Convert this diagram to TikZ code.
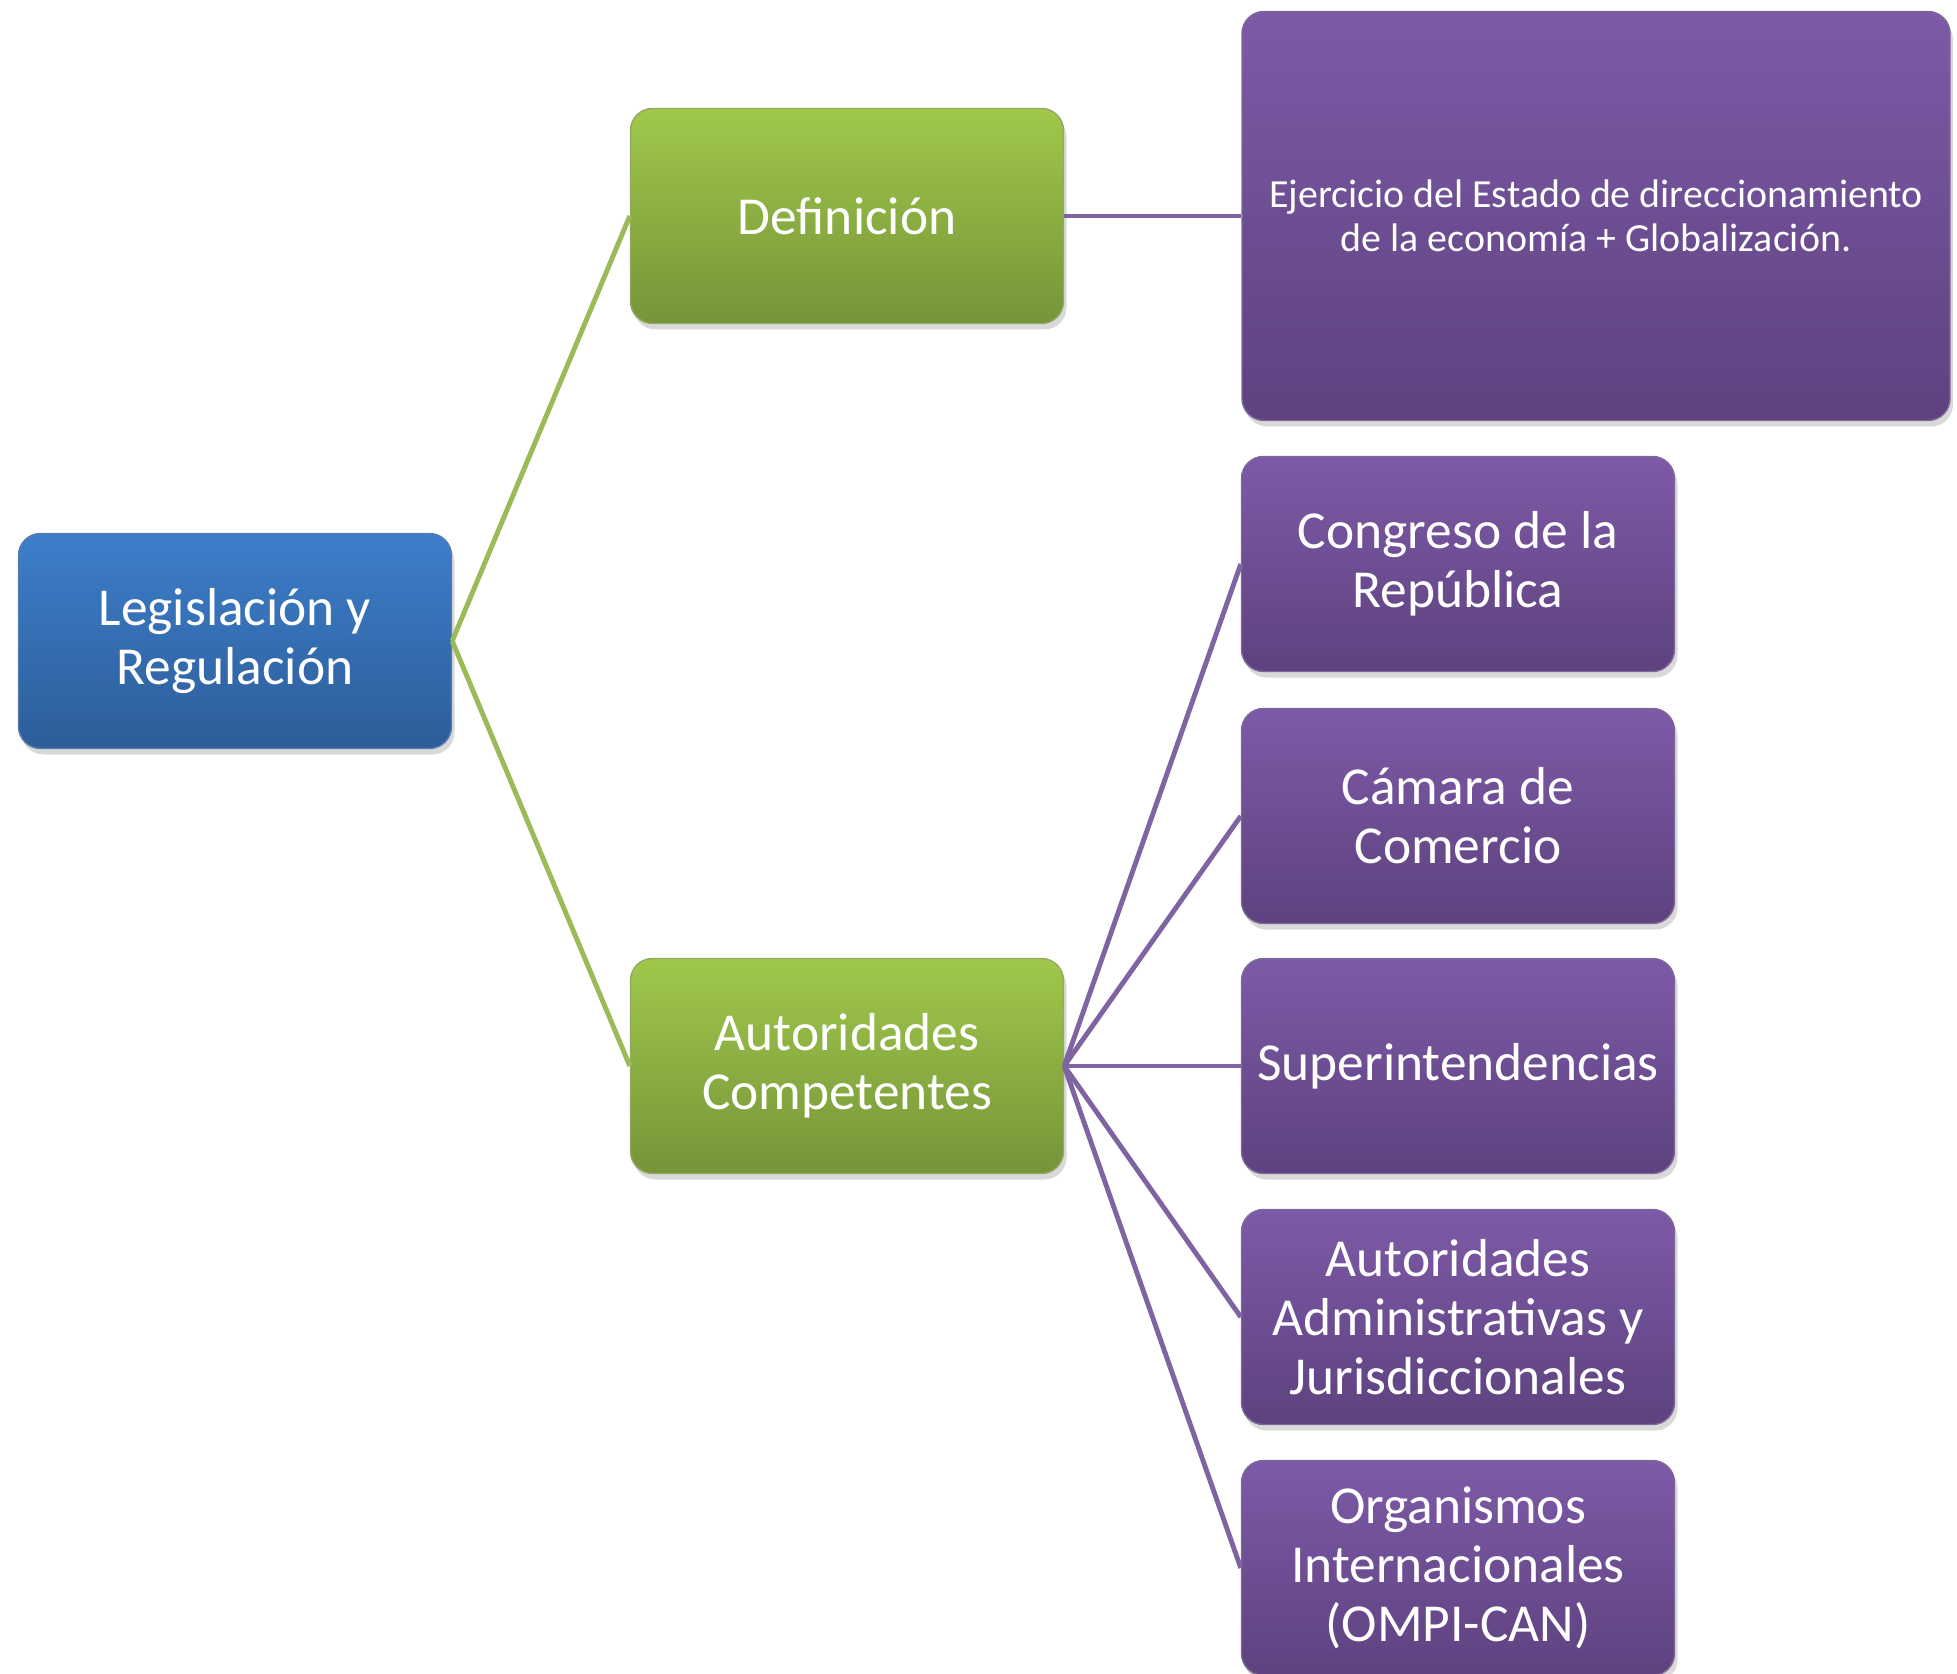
\documentclass[tikz,border=0pt]{standalone}
\usepackage{fontspec}
\setmainfont{Carlito}
\usetikzlibrary{shadows}

\definecolor{blueTop}{HTML}{3D7ECA}
\definecolor{blueBot}{HTML}{2D5D99}
\definecolor{greenTop}{HTML}{A0C84B}
\definecolor{greenBot}{HTML}{769439}
\definecolor{purpTop}{HTML}{7D5AA7}
\definecolor{purpBot}{HTML}{5E427F}
\definecolor{greenLine}{HTML}{9BBB59}
\definecolor{purpLine}{HTML}{8064A2}

\begin{document}
\begin{tikzpicture}[
    box/.style={rectangle,rounded corners=0.22cm,minimum width=4.33cm,minimum height=2.15cm,
        text=white,align=center,font=\fontsize{15.2}{16.8}\selectfont,
        drop shadow={opacity=0.3,shadow xshift=0.03cm,shadow yshift=-0.06cm}},
    bluebox/.style={box,top color=blueTop,bottom color=blueBot,draw=blueBot!80!white},
    greenbox/.style={box,top color=greenTop,bottom color=greenBot,draw=greenBot!80!white},
    purpbox/.style={box,top color=purpTop,bottom color=purpBot,draw=purpBot!80!white},
    glink/.style={draw=greenLine,line width=1.4pt},
    plink/.style={draw=purpLine,line width=1.4pt}]
    \useasboundingbox (0,0) rectangle (19.57,16.73);

    \node[bluebox] (root) at (2.35,10.32) {Legislación y\\Regulación};
    \node[greenbox] (defin) at (8.47,14.57) {Definición};
    \node[greenbox] (autcomp) at (8.47,6.07) {Autoridades\\Competentes};
    \node[purpbox,minimum width=7.08cm,minimum height=4.09cm,
        font=\fontsize{11.35}{12.6}\selectfont] (ejercicio) at (15.96,14.57)
        {Ejercicio del Estado de direccionamiento\\de la economía + Globalización.};
    \node[purpbox] (congreso) at (14.58,11.09) {Congreso de la\\República};
    \node[purpbox] (camara) at (14.58,8.57) {Cámara de\\Comercio};
    \node[purpbox] (superint) at (14.58,6.07) {Superintendencias};
    \node[purpbox] (autadm) at (14.58,3.56) {Autoridades\\Administrativas y\\Jurisdiccionales};
    \node[purpbox] (organismos) at (14.58,1.05) {Organismos\\Internacionales\\(OMPI-CAN)};

    \draw[glink] (root.east) -- (defin.west);
    \draw[glink] (root.east) -- (autcomp.west);
    \draw[plink] (defin.east) -- (ejercicio.west);
    \draw[plink] (autcomp.east) -- (congreso.west);
    \draw[plink] (autcomp.east) -- (camara.west);
    \draw[plink] (autcomp.east) -- (superint.west);
    \draw[plink] (autcomp.east) -- (autadm.west);
    \draw[plink] (autcomp.east) -- (organismos.west);
\end{tikzpicture}
\end{document}
